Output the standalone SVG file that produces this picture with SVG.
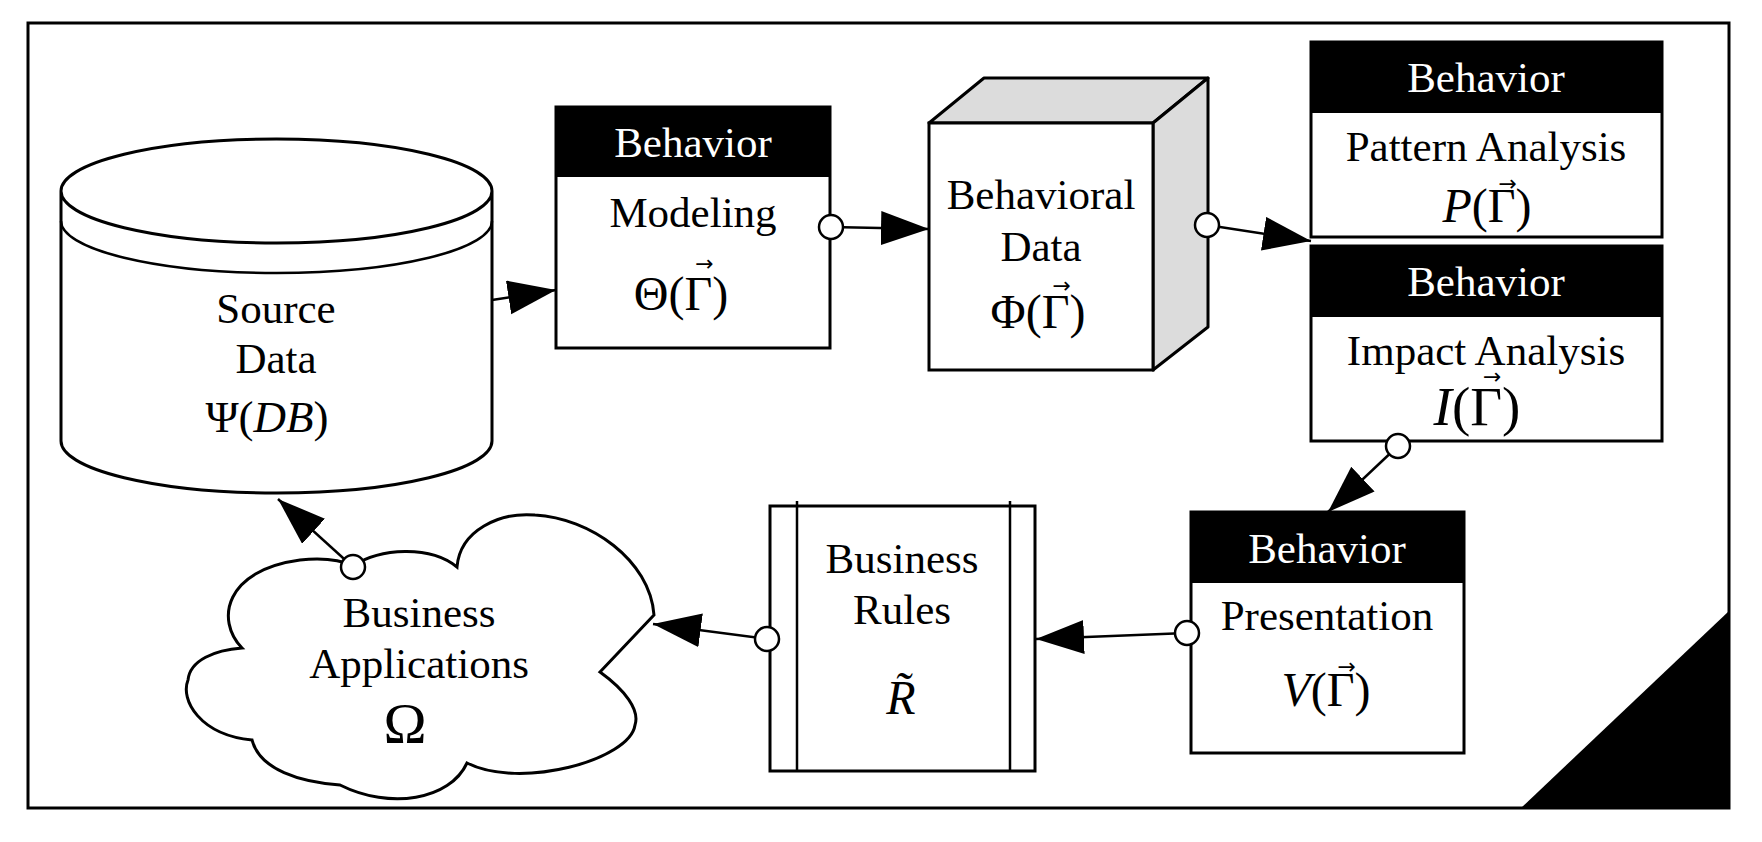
<svg xmlns="http://www.w3.org/2000/svg" width="1762" height="842" viewBox="0 0 1762 842">
<style>
  .t{font-family:"Liberation Serif","DejaVu Serif",serif;font-size:43px;text-anchor:middle;fill:#000}
  .w{fill:#fff}
  .m{font-size:48px}
  .big{font-size:55px}
  .om{font-size:58px}
  .vec{font-family:"DejaVu Sans","Liberation Serif",sans-serif;font-size:22px;font-style:normal}
  .box{fill:#fff;stroke:#000;stroke-width:3}
  .hdr{fill:#000}
  .line{stroke:#000;stroke-width:2.5;fill:none}
  .dot{fill:#fff;stroke:#000;stroke-width:2.5}
</style>
<defs>
  <marker id="ah" markerUnits="userSpaceOnUse" markerWidth="50" markerHeight="36" refX="48" refY="17" orient="auto">
    <path d="M0,0 L48,17 L0,34 Z" fill="#000"/>
  </marker>
</defs>
<rect x="0" y="0" width="1762" height="842" fill="#fff"/>
<rect id="frame" x="28" y="23" width="1701" height="785" fill="none" stroke="#000" stroke-width="3"/>
<polygon points="1521,808 1729,611 1729,808" fill="#000"/>

<g id="source-data">
  <path class="box" d="M61,191 L61,441 A215.5,52 0 0 0 492,441 L492,191 A215.5,52 0 0 0 61,191 A215.5,52 0 0 0 492,191"/>
  <path class="line" stroke-width="3" d="M61,221 A215.5,52 0 0 0 492,221"/>
  <text class="t" x="276" y="323">Source</text>
  <text class="t" x="276" y="373">Data</text>
  <text class="t" style="font-size:45px" x="267" y="432">Ψ(<tspan font-style="italic">DB</tspan>)</text>
</g>

<g id="modeling">
  <rect class="box" x="556" y="107" width="274" height="241"/>
  <rect class="hdr" x="556" y="107" width="274" height="70"/>
  <text class="t w" x="693" y="157">Behavior</text>
  <text class="t" x="693" y="227">Modeling</text>
  <text class="t m" x="681" y="310">Θ(Γ<tspan class="vec" dx="-17" dy="-39">→</tspan><tspan dx="-1.4" dy="39">)</tspan></text>
</g>

<g id="behavioral-data">
  <polygon points="929,123 984,78 1208,78 1153,123" fill="#dcdcdc" stroke="#000" stroke-width="3" stroke-linejoin="round"/>
  <polygon points="1153,123 1208,78 1208,327 1153,370" fill="#dcdcdc" stroke="#000" stroke-width="3" stroke-linejoin="round"/>
  <rect class="box" x="929" y="123" width="224" height="247"/>
  <text class="t" x="1041" y="209">Behavioral</text>
  <text class="t" x="1041" y="261">Data</text>
  <text class="t m" x="1038" y="328">Φ(Γ<tspan class="vec" dx="-17" dy="-35">→</tspan><tspan dx="-1.4" dy="35">)</tspan></text>
</g>

<g id="pattern-analysis">
  <rect class="box" x="1311" y="42" width="351" height="195"/>
  <rect class="hdr" x="1311" y="42" width="351" height="71"/>
  <text class="t w" x="1486" y="92">Behavior</text>
  <text class="t" x="1486" y="161">Pattern Analysis</text>
  <text class="t m" x="1487" y="222"><tspan font-style="italic">P</tspan>(Γ<tspan class="vec" dx="-17" dy="-31">→</tspan><tspan dx="-1.4" dy="31">)</tspan></text>
</g>

<g id="impact-analysis">
  <rect class="box" x="1311" y="246" width="351" height="195"/>
  <rect class="hdr" x="1311" y="246" width="351" height="71"/>
  <text class="t w" x="1486" y="296">Behavior</text>
  <text class="t" x="1486" y="365">Impact Analysis</text>
  <text class="t big" x="1477" y="425"><tspan font-style="italic">I</tspan>(Γ<tspan class="vec" dx="-19" dy="-41">→</tspan><tspan dx="0.6" dy="41">)</tspan></text>
</g>

<g id="presentation">
  <rect class="box" x="1191" y="512" width="273" height="241"/>
  <rect class="hdr" x="1191" y="512" width="273" height="71"/>
  <text class="t w" x="1327" y="563">Behavior</text>
  <text class="t" x="1327" y="630">Presentation</text>
  <text class="t m" x="1326" y="706"><tspan font-style="italic">V</tspan>(Γ<tspan class="vec" dx="-17" dy="-32">→</tspan><tspan dx="-1.4" dy="32">)</tspan></text>
</g>

<g id="business-rules">
  <rect class="box" x="770" y="506" width="265" height="265"/>
  <line class="line" stroke-width="3" x1="797" y1="501" x2="797" y2="771"/>
  <line class="line" stroke-width="3" x1="1010" y1="501" x2="1010" y2="771"/>
  <text class="t" x="902" y="573">Business</text>
  <text class="t" x="902" y="624">Rules</text>
  <text class="t m" x="901" y="714" font-style="italic">R̃</text>
</g>

<g id="business-applications">
  <path class="box" d="M242,648 C215,620 225,570 300,560 C330,557 345,562 353,566 C380,548 430,545 457,567 C460,530 500,512 535,515 C590,518 650,560 654,615 L600,672 C625,690 640,710 635,725 C630,760 520,790 467,763 C450,800 390,810 340,785 C300,782 260,770 252,740 C200,735 180,700 188,680 C190,660 215,650 242,648 Z"/>
  <text class="t" x="419" y="627">Business</text>
  <text class="t" x="419" y="678">Applications</text>
  <text class="t om" x="405" y="743">Ω</text>
</g>

<g id="connectors">
  <line class="line" x1="492" y1="300" x2="556" y2="290" marker-end="url(#ah)"/>
  <line class="line" x1="831" y1="227" x2="929" y2="229" marker-end="url(#ah)"/>
  <circle class="dot" cx="831" cy="227" r="12"/>
  <line class="line" x1="1207" y1="225" x2="1311" y2="241" marker-end="url(#ah)"/>
  <circle class="dot" cx="1207" cy="225" r="12"/>
  <line class="line" x1="1398" y1="446" x2="1328" y2="512" marker-end="url(#ah)"/>
  <circle class="dot" cx="1398" cy="446" r="12"/>
  <line class="line" x1="1187" y1="633" x2="1036" y2="639" marker-end="url(#ah)"/>
  <circle class="dot" cx="1187" cy="633" r="12"/>
  <line class="line" x1="767" y1="639" x2="653" y2="624" marker-end="url(#ah)"/>
  <circle class="dot" cx="767" cy="639" r="12"/>
  <line class="line" x1="353" y1="567" x2="278" y2="499" marker-end="url(#ah)"/>
  <circle class="dot" cx="353" cy="567" r="12"/>
</g>
</svg>
